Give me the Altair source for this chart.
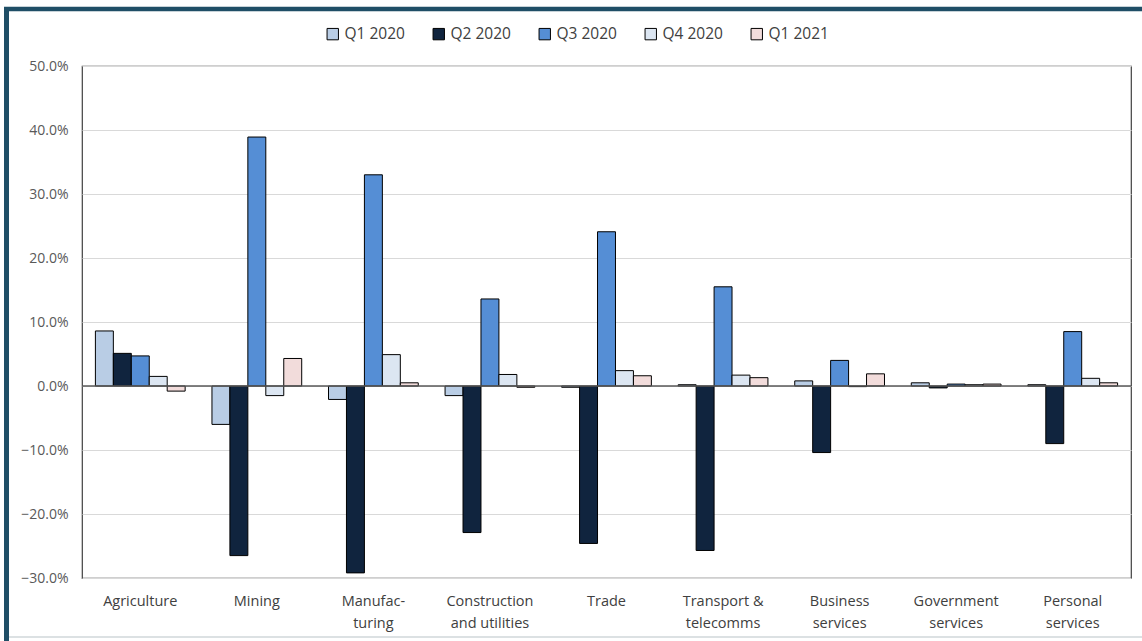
import altair as alt
import pandas as pd

sectors = ["Agriculture", "Mining", "Manufac-|turing", "Construction|and utilities", "Trade",
           "Transport &|telecomms", "Business|services", "Government|services", "Personal|services"]
quarters = ["Q1 2020", "Q2 2020", "Q3 2020", "Q4 2020", "Q1 2021"]
colors = ["#B9CDE5", "#10243E", "#558ED5", "#DCE6F2", "#F2DCDB"]

q1_2020 = [8.6, -6.0, -2.1, -1.5, -0.2, 0.2, 0.8, 0.5, 0.2]
q2_2020 = [5.1, -26.5, -29.2, -22.9, -24.6, -25.7, -10.4, -0.3, -9.0]
q3_2020 = [4.7, 38.9, 33.0, 13.6, 24.1, 15.5, 4.0, 0.3, 8.5]
q4_2020 = [1.5, -1.5, 4.9, 1.8, 2.4, 1.7, -0.1, 0.2, 1.2]
q1_2021 = [-0.8, 4.3, 0.5, -0.2, 1.6, 1.3, 1.9, 0.3, 0.5]

series = [q1_2020, q2_2020, q3_2020, q4_2020, q1_2021]
rows = []
for q, vals in zip(quarters, series):
    for s, v in zip(sectors, vals):
        rows.append({"sector": s, "quarter": q, "value": v})
df = pd.DataFrame(rows)

FONT = "Open Sans"

bars = alt.Chart(df).mark_bar(stroke="#000000", strokeWidth=1).encode(
    x=alt.X("sector:N", sort=sectors, title=None,
            scale=alt.Scale(paddingInner=0.23, paddingOuter=0.115),
            axis=alt.Axis(labelExpr="split(datum.label, '|')", labelAngle=0, ticks=False,
                          domain=False, labelFontSize=14.5, labelColor="#404040",
                          labelFont=FONT, labelPadding=16, labelLineHeight=22)),
    xOffset=alt.XOffset("quarter:N", sort=quarters),
    y=alt.Y("value:Q", title=None,
            scale=alt.Scale(domain=[-30, 50], nice=False),
            axis=alt.Axis(values=[-30, -20, -10, 0, 10, 20, 30, 40, 50],
                          labelExpr="format(datum.value, '.1f') + '%'",
                          ticks=False, domain=False, grid=True, gridColor="#D9D9D9",
                          labelFontSize=14, labelColor="#595959", labelFont=FONT,
                          labelPadding=14)),
    color=alt.Color("quarter:N", sort=quarters,
                    scale=alt.Scale(domain=quarters, range=colors),
                    legend=alt.Legend(title=None, orient="none", direction="horizontal",
                                      legendX=243, legendY=-40, symbolType="square",
                                      symbolSize=130, symbolStrokeColor="#000000",
                                      symbolStrokeWidth=1, labelFontSize=15.5,
                                      labelFont=FONT, labelColor="#404040",
                                      labelOffset=4, columnPadding=26)),
)

zero = alt.Chart(pd.DataFrame({"z": [0]})).mark_rule(color="#595959", strokeWidth=1.3).encode(
    y="z:Q")

frame_left = alt.Chart(pd.DataFrame({"a": [0]})).mark_rule(color="#1F4E66", strokeWidth=5).encode(
    x=alt.value(-75.5), y=alt.value(-59), y2=alt.value(575))
frame_top = alt.Chart(pd.DataFrame({"a": [0]})).mark_rule(color="#1F4E66", strokeWidth=4.5).encode(
    x=alt.value(-78), x2=alt.value(1065), y=alt.value(-57))
frame_bottom = alt.Chart(pd.DataFrame({"a": [0]})).mark_rule(color="#D0D7DA", strokeWidth=1.5).encode(
    x=alt.value(-73), x2=alt.value(1065), y=alt.value(571))

chart = alt.layer(bars, zero, frame_left, frame_top, frame_bottom).properties(
    width=1049, height=512,
    autosize=alt.AutoSizeParams(type="none"),
    padding={"left": 82, "top": 66, "right": 11, "bottom": 63},
    background="#FFFFFF",
).configure_view(stroke="#404040", strokeWidth=1.2)

chart.save("out.html", embed_options={"renderer": "svg", "actions": False})
